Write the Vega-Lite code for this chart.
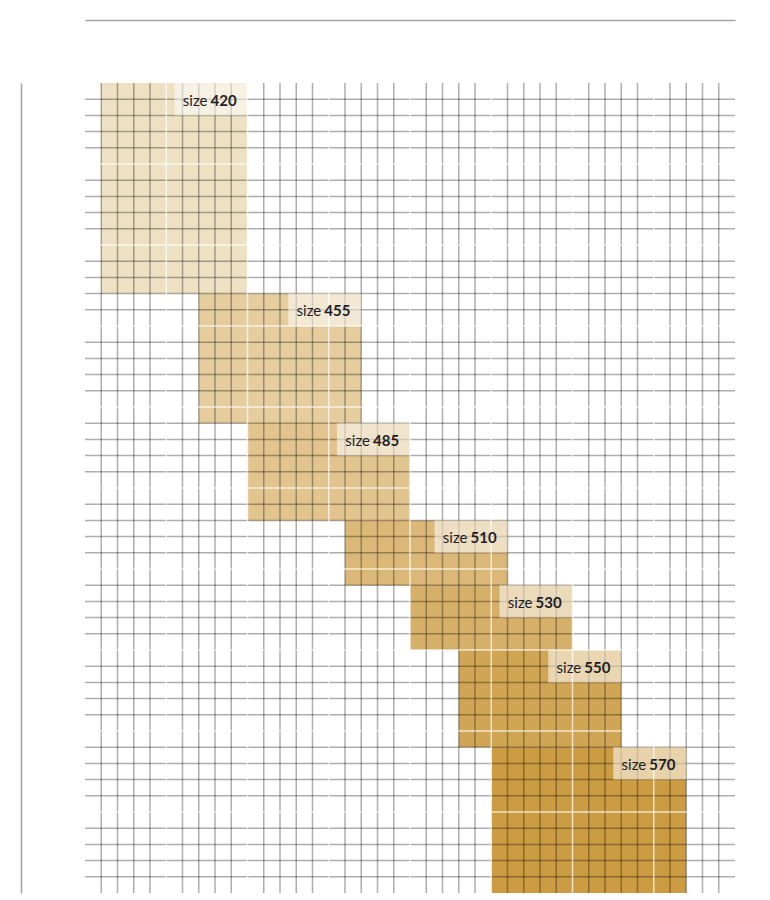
{
  "$schema": "https://vega.github.io/schema/vega-lite/v6.json",
  "autosize": {"type": "none"},
  "padding": {"left": 85, "top": 83, "right": 35, "bottom": 7},
  "width": 650,
  "height": 810,
  "background": "white",
  "config": {
    "view": {"stroke": null},
    "axis": {"grid": false, "ticks": false, "labels": false, "title": null, "domainColor": "#a3a3a3", "domainWidth": 1.5},
    "text": {"font": "Lato", "fontSize": 15, "color": "#1e1e24"}
  },
  "datasets": {
    "blocks": [
      {"size": 420, "x1": 1, "x2": 10, "y1": 0, "y2": 13},
      {"size": 455, "x1": 7, "x2": 17, "y1": 13, "y2": 21},
      {"size": 485, "x1": 10, "x2": 20, "y1": 21, "y2": 27},
      {"size": 510, "x1": 16, "x2": 26, "y1": 27, "y2": 31},
      {"size": 530, "x1": 20, "x2": 30, "y1": 31, "y2": 35},
      {"size": 550, "x1": 23, "x2": 33, "y1": 35, "y2": 41},
      {"size": 570, "x1": 25, "x2": 37, "y1": 41, "y2": 50}
    ],
    "vlines": [
      {"v": 1},{"v": 2},{"v": 3},{"v": 4},{"v": 5},{"v": 6},{"v": 7},{"v": 8},{"v": 9},{"v": 10},
      {"v": 11},{"v": 12},{"v": 13},{"v": 14},{"v": 15},{"v": 16},{"v": 17},{"v": 18},{"v": 19},{"v": 20},
      {"v": 21},{"v": 22},{"v": 23},{"v": 24},{"v": 25},{"v": 26},{"v": 27},{"v": 28},{"v": 29},{"v": 30},
      {"v": 31},{"v": 32},{"v": 33},{"v": 34},{"v": 35},{"v": 36},{"v": 37},{"v": 38},{"v": 39}
    ],
    "hlines": [
      {"h": 1},{"h": 2},{"h": 3},{"h": 4},{"h": 5},{"h": 6},{"h": 7},{"h": 8},{"h": 9},{"h": 10},
      {"h": 11},{"h": 12},{"h": 13},{"h": 14},{"h": 15},{"h": 16},{"h": 17},{"h": 18},{"h": 19},{"h": 20},
      {"h": 21},{"h": 22},{"h": 23},{"h": 24},{"h": 25},{"h": 26},{"h": 27},{"h": 28},{"h": 29},{"h": 30},
      {"h": 31},{"h": 32},{"h": 33},{"h": 34},{"h": 35},{"h": 36},{"h": 37},{"h": 38},{"h": 39},{"h": 40},
      {"h": 41},{"h": 42},{"h": 43},{"h": 44},{"h": 45},{"h": 46},{"h": 47},{"h": 48},{"h": 49}
    ]
  },
  "layer": [
    {
      "data": {"name": "blocks"},
      "mark": {"type": "rect"},
      "encoding": {
        "x": {"field": "x1", "type": "quantitative", "scale": {"domain": [0, 40], "nice": false, "zero": false}, "axis": {"orient": "top", "offset": 63}},
        "x2": {"field": "x2"},
        "y": {"field": "y1", "type": "quantitative", "scale": {"domain": [0, 50], "reverse": true, "nice": false, "zero": false}, "axis": {"orient": "left", "offset": 64}},
        "y2": {"field": "y2"},
        "color": {"field": "size", "type": "ordinal", "legend": null,
          "scale": {"domain": [420, 455, 485, 510, 530, 550, 570],
                    "range": ["#eee1c3", "#e5cd9e", "#e1c48e", "#dbb878", "#d6af68", "#d0a553", "#cc9c43"]}}
      }
    },
    {
      "data": {"name": "vlines"},
      "transform": [{"filter": "datum.v % 5 !== 0"}],
      "mark": {"type": "rule", "color": "#000000", "opacity": 0.32, "strokeWidth": 1.5},
      "encoding": {"x": {"field": "v", "type": "quantitative", "axis": {"orient": "top", "offset": 63}}}
    },
    {
      "data": {"name": "hlines"},
      "transform": [{"filter": "datum.h % 5 !== 0"}],
      "mark": {"type": "rule", "color": "#000000", "opacity": 0.32, "strokeWidth": 1.5},
      "encoding": {"y": {"field": "h", "type": "quantitative", "axis": {"orient": "left", "offset": 64}}}
    },
    {
      "data": {"name": "vlines"},
      "transform": [{"filter": "datum.v % 5 === 0"}],
      "mark": {"type": "rule", "color": "#ffffff", "opacity": 0.7, "strokeWidth": 1.5},
      "encoding": {"x": {"field": "v", "type": "quantitative", "axis": {"orient": "top", "offset": 63}}}
    },
    {
      "data": {"name": "hlines"},
      "transform": [{"filter": "datum.h % 5 === 0"}],
      "mark": {"type": "rule", "color": "#ffffff", "opacity": 0.7, "strokeWidth": 1.5},
      "encoding": {"y": {"field": "h", "type": "quantitative", "axis": {"orient": "left", "offset": 64}}}
    },
    {
      "data": {"name": "blocks"},
      "mark": {"type": "rect", "fill": "#ffffff", "opacity": 0.55, "xOffset": -73, "y2Offset": 32.4},
      "encoding": {
        "x": {"field": "x2", "type": "quantitative", "axis": {"orient": "top", "offset": 63}},
        "x2": {"field": "x2"},
        "y": {"field": "y1", "type": "quantitative", "axis": {"orient": "left", "offset": 64}},
        "y2": {"field": "y1"}
      }
    },
    {
      "data": {"name": "blocks"},
      "mark": {"type": "text", "align": "right", "baseline": "middle", "dx": -40, "dy": 17.5, "fontWeight": "normal"},
      "encoding": {
        "x": {"field": "x2", "type": "quantitative", "axis": {"orient": "top", "offset": 63}},
        "y": {"field": "y1", "type": "quantitative", "axis": {"orient": "left", "offset": 64}},
        "text": {"value": "size"}
      }
    },
    {
      "data": {"name": "blocks"},
      "mark": {"type": "text", "align": "left", "baseline": "middle", "dx": -37, "dy": 17.5, "fontWeight": "bold"},
      "encoding": {
        "x": {"field": "x2", "type": "quantitative", "axis": {"orient": "top", "offset": 63}},
        "y": {"field": "y1", "type": "quantitative", "axis": {"orient": "left", "offset": 64}},
        "text": {"field": "size", "type": "nominal"}
      }
    }
  ]
}
